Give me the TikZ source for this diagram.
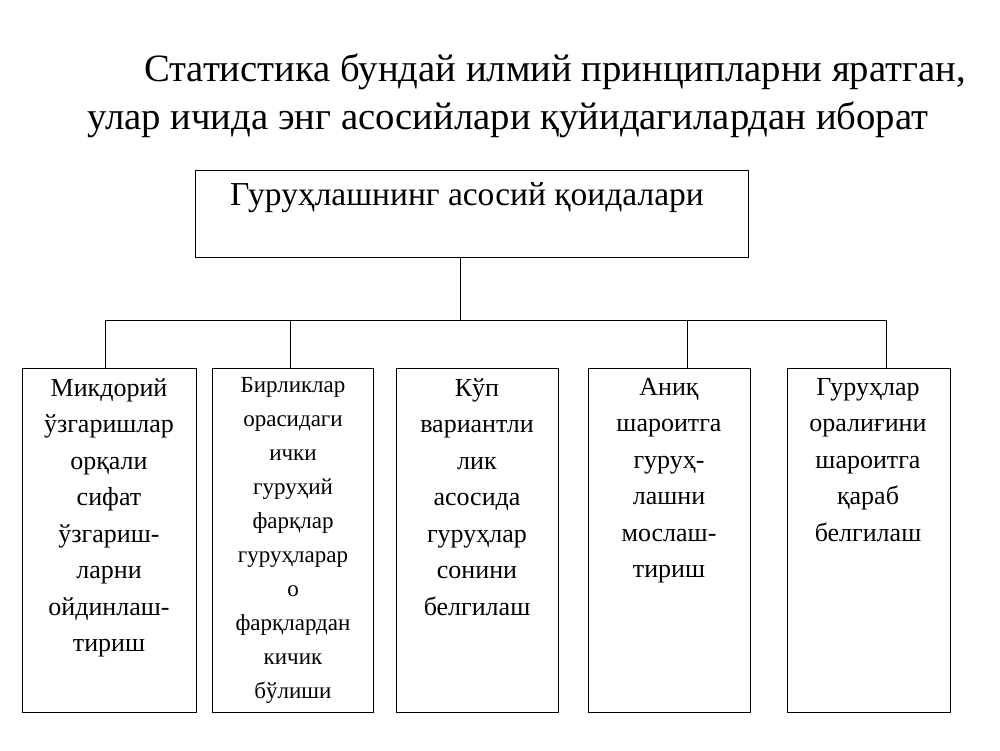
\documentclass[tikz,border=0pt]{standalone}
\usepackage{fontspec}
\setmainfont{Liberation Serif}
\begin{document}
\begin{tikzpicture}[x=1pt,y=-1pt,
 box/.style={draw,line width=0.9pt},
 txt/.style={anchor=north,align=center,font=\fontsize{26}{36.5}\selectfont,inner sep=0pt},
 ln/.style={line width=0.9pt}]
\useasboundingbox (0,0) rectangle (1000,750);
\node[font=\fontsize{38.7}{48}\selectfont,inner sep=0pt] (t1) at (555,72) {Статистика бундай илмий принципларни яратган,};
\node[font=\fontsize{38.7}{48}\selectfont,inner sep=0pt] (t2) at (508,120) {улар ичида энг асосийлари қуйидагилардан иборат};
\draw[box] (195,170) rectangle (748,257);
\node[font=\fontsize{33.5}{36}\selectfont,inner sep=0pt] (top) at (467,198) {Гуруҳлашнинг асосий қоидалари};
\coordinate (tb) at (460,257);
\coordinate (j) at (460,320);
\draw[box] (22,368) rectangle (196,712);
\draw[box] (212,368) rectangle (373,712);
\draw[box] (396,368) rectangle (558,712);
\draw[box] (588,368) rectangle (750,712);
\draw[box] (787,368) rectangle (950,712);
\coordinate (b1) at (105,368);
\coordinate (b2) at (290,368);
\coordinate (b4) at (687,368);
\coordinate (b5) at (886,368);
\draw[ln] (tb)--(j);
\draw[ln] (b1|-j)--(b5|-j);
\foreach \b in {b1,b2,b4,b5} \draw[ln] (\b|-j)--(\b);
\node[txt] (x1) at (109,378) {Микдорий\\ўзгаришлар\\орқали\\сифат\\ўзгариш-\\ларни\\ойдинлаш-\\тириш};
\node[txt,font=\fontsize{23}{34}\selectfont] (x2) at (293,377) {Бирликлар\\орасидаги\\ички\\гуруҳий\\фарқлар\\гуруҳларар\\о\\фарқлардан\\кичик\\бўлиши};
\node[txt] (x3) at (477,378) {Кўп\\вариантли\\лик\\асосида\\гуруҳлар\\сонини\\белгилаш};
\node[txt] (x4) at (669,378) {Аниқ\\шароитга\\гуруҳ-\\лашни\\мослаш-\\тириш};
\node[txt] (x5) at (868,378) {Гуруҳлар\\оралиғини\\шароитга\\қараб\\белгилаш};
\end{tikzpicture}
\end{document}
